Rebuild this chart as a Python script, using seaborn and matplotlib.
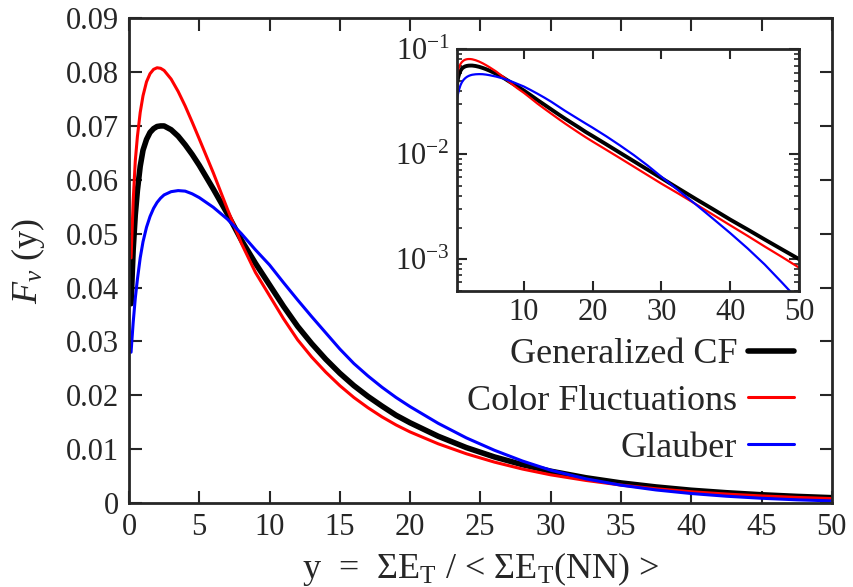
import numpy as np
import pandas as pd
import matplotlib
matplotlib.use("Agg")
import matplotlib.pyplot as plt
import seaborn as sns
from matplotlib.ticker import LogLocator, LogFormatterSciNotation, NullFormatter

# values
y_grid = [0.15, 0.3, 0.45, 0.6, 0.8, 1.0, 1.25, 1.5, 1.75, 2.0, 2.25, 2.5, 3.0,
          3.5, 4.0, 4.5, 5.0, 6.0, 7.0, 8.0, 9.0, 10, 11, 12, 13, 14, 15, 16,
          17, 18, 19, 20, 22, 24, 26, 28, 30, 32.5, 35, 37.5, 40, 42.5, 45,
          47.5, 50]

gen_cf = [0.037, 0.047, 0.0535, 0.058, 0.0625, 0.0655, 0.0675, 0.0688, 0.0695,
          0.0699, 0.0700, 0.0700, 0.0693, 0.0681, 0.0665, 0.0647, 0.0627, 0.0583,
          0.0537, 0.0488, 0.0445, 0.0405, 0.0365, 0.0328, 0.0296, 0.0267, 0.0241,
          0.0218, 0.0198, 0.0180, 0.0163, 0.0149, 0.0124, 0.0103, 0.00856,
          0.00712, 0.00592, 0.0047, 0.00374, 0.00299, 0.00238, 0.00192,
          0.00154, 0.00124, 0.0010]

color_fl = [0.0455, 0.056, 0.0635, 0.068, 0.0725, 0.0756, 0.0782, 0.0797, 0.0805,
            0.0808, 0.0807, 0.0803, 0.0787, 0.0764, 0.0737, 0.0707, 0.0676, 0.0613,
            0.0546, 0.0482, 0.0428, 0.0385, 0.0342, 0.0303, 0.0271, 0.0243, 0.0218,
            0.0196, 0.0177, 0.0160, 0.0145, 0.0132, 0.0110, 0.00915, 0.0076,
            0.00631, 0.00524, 0.0042, 0.00334, 0.00265, 0.0021, 0.00167, 0.00132,
            0.00105, 0.00083]

glauber = [0.028, 0.0335, 0.038, 0.0415, 0.0455, 0.0485, 0.0512, 0.0532, 0.0547,
           0.0558, 0.0566, 0.0572, 0.0578, 0.0580, 0.0579, 0.0574, 0.0567, 0.0549,
           0.0527, 0.0500, 0.0470, 0.0442, 0.0409, 0.0377, 0.0346, 0.0316, 0.0286,
           0.0259, 0.0236, 0.0215, 0.0196, 0.0179, 0.0148, 0.0121, 0.0098,
           0.0078, 0.0061, 0.0045, 0.00332, 0.00243, 0.00177, 0.00127, 0.00089,
           0.0006, 0.0004]

labels = ["Generalized CF", "Color Fluctuations", "Glauber"]
colors = ["black", "#ff0000", "#0000ff"]

df = pd.DataFrame({
    "y": y_grid * 3,
    "F": gen_cf + color_fl + glauber,
    "model": sum([[l] * len(y_grid) for l in labels], []),
})

sns.set_style("ticks")
plt.rcParams["font.family"] = ["Liberation Serif", "DejaVu Serif"]
plt.rcParams["mathtext.fontset"] = "custom"
plt.rcParams["mathtext.rm"] = "Liberation Serif"
plt.rcParams["mathtext.it"] = "Liberation Serif:italic"
plt.rcParams["mathtext.bf"] = "Liberation Serif:bold"

fig = plt.figure(figsize=(8.54, 5.87), dpi=100)
ax = fig.add_axes([0.151, 0.143, 0.823, 0.826])

main_lw = [4.0, 2.2, 2.2]
for lab, col, lw in zip(labels, colors, main_lw):
    sns.lineplot(data=df[df.model == lab], x="y", y="F", color=col, lw=lw,
                 estimator=None, label=lab, ax=ax)

ax.set_xlim(0, 50)
ax.set_ylim(0, 0.09)
ax.set_xticks(np.arange(0, 51, 5))
ax.set_yticks(np.arange(0, 0.0901, 0.01))
ax.set_yticklabels(["0"] + [f"{v:.2f}" for v in np.arange(0.01, 0.0901, 0.01)])
ax.tick_params(direction="in", length=9, width=1.5, labelsize=22,
               top=True, right=True, pad=7)
for s in ax.spines.values():
    s.set_linewidth(2)
ax.set_xlabel(r"y  =  $\Sigma$E$_\mathrm{T}$ / < $\Sigma$E$_\mathrm{T}$(NN) >",
              fontsize=26, labelpad=6)
ax.set_ylabel(r"$F_{\nu}$ (y)", fontsize=26, labelpad=14)

ax.legend(loc="upper right", bbox_to_anchor=(0.93, 0.424),
          bbox_transform=fig.transFigure, frameon=False, markerfirst=False,
          fontsize=26, handlelength=1.28, handletextpad=0.3, labelspacing=0.37,
          borderpad=0, borderaxespad=0)

# inset, log scale
ins = fig.add_axes([0.5348, 0.5048, 0.4008, 0.4112])
ins_lw = [2.8, 1.6, 1.6]
for lab, col, lw in zip(labels, colors, ins_lw):
    sns.lineplot(data=df[df.model == lab], x="y", y="F", color=col, lw=lw,
                 estimator=None, legend=False, ax=ins)
ins.set_yscale("log")
ins.set_xlim(0.25, 50)
ins.set_ylim(5e-4, 0.1)
ins.set_xticks([10, 20, 30, 40, 50])
ins.yaxis.set_major_locator(LogLocator(base=10))
ins.yaxis.set_major_formatter(LogFormatterSciNotation())
ins.yaxis.set_minor_locator(LogLocator(base=10, subs=np.arange(2, 10)))
ins.yaxis.set_minor_formatter(NullFormatter())
ins.set_xlabel("")
ins.set_ylabel("")
ins.tick_params(which="major", direction="in", length=7, width=1.5,
                labelsize=22, top=True, right=True, pad=5)
ins.tick_params(which="minor", direction="in", length=3.5, width=1.2,
                top=True, right=True)
for s in ins.spines.values():
    s.set_linewidth(2)

fig.savefig("out.png", dpi=100)
